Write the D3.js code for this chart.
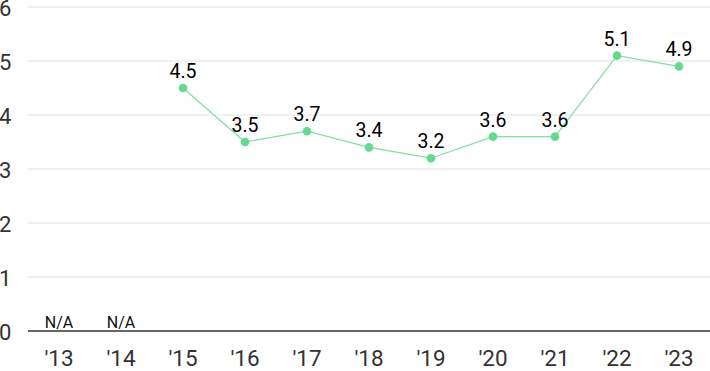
<!DOCTYPE html>
<html><head><meta charset="utf-8">
<script src="https://cdn.jsdelivr.net/npm/d3@7"></script>
<style>body{margin:0;background:#fff}svg{display:block;font-family:Roboto,sans-serif}</style>
</head><body><svg id="c" width="710" height="371"></svg>
<script>
const years = ["'13","'14","'15","'16","'17","'18","'19","'20","'21","'22","'23"];
const values = [null,null,4.5,3.5,3.7,3.4,3.2,3.6,3.6,5.1,4.9];
const yTicks = [0,1,2,3,4,5,6];

const svg = d3.select("#c");
const x = d3.scaleBand().domain(years).range([28,710]);
const y = d3.scaleLinear().domain([0,6]).range([331,7]);
const cx = d => x(d) + x.bandwidth()/2;

svg.append("g").selectAll("line").data(yTicks.filter(t=>t>0)).join("line")
  .attr("x1",28).attr("x2",710).attr("y1",d=>y(d)).attr("y2",d=>y(d))
  .attr("stroke","#e3e3e3").attr("stroke-width",1);
svg.append("line").attr("x1",28).attr("x2",710).attr("y1",y(0)).attr("y2",y(0))
  .attr("stroke","#333").attr("stroke-width",1.3);

svg.append("g").selectAll("text").data(yTicks).join("text")
  .attr("x",-1).attr("y",d=>y(d)+8.5).attr("font-size",22).attr("fill","#333")
  .text(d=>d);

svg.append("g").selectAll("text").data(years).join("text")
  .attr("x",d=>cx(d)).attr("y",366).attr("text-anchor","middle")
  .attr("font-size",22.5).attr("fill","#333").text(d=>d);

const pts = years.map((yr,i)=>({yr,v:values[i]}));
const valid = pts.filter(p=>p.v!=null);
svg.append("path").datum(valid)
  .attr("d",d3.line().x(p=>cx(p.yr)).y(p=>y(p.v)))
  .attr("fill","none").attr("stroke","#7ee0a0").attr("stroke-width",1.2);
svg.append("g").selectAll("circle").data(valid).join("circle")
  .attr("cx",p=>cx(p.yr)).attr("cy",p=>y(p.v)).attr("r",4.3).attr("fill","#66d990");
svg.append("g").selectAll("text").data(valid).join("text")
  .attr("x",p=>cx(p.yr)).attr("y",p=>y(p.v)-10).attr("text-anchor","middle")
  .attr("font-size",19.5).attr("fill","#000").text(p=>p.v.toFixed(1));
svg.append("g").selectAll("text").data(pts.filter(p=>p.v==null)).join("text")
  .attr("x",p=>cx(p.yr)).attr("y",328).attr("text-anchor","middle")
  .attr("font-size",16).attr("fill","#111").text("N/A");
</script></body></html>
